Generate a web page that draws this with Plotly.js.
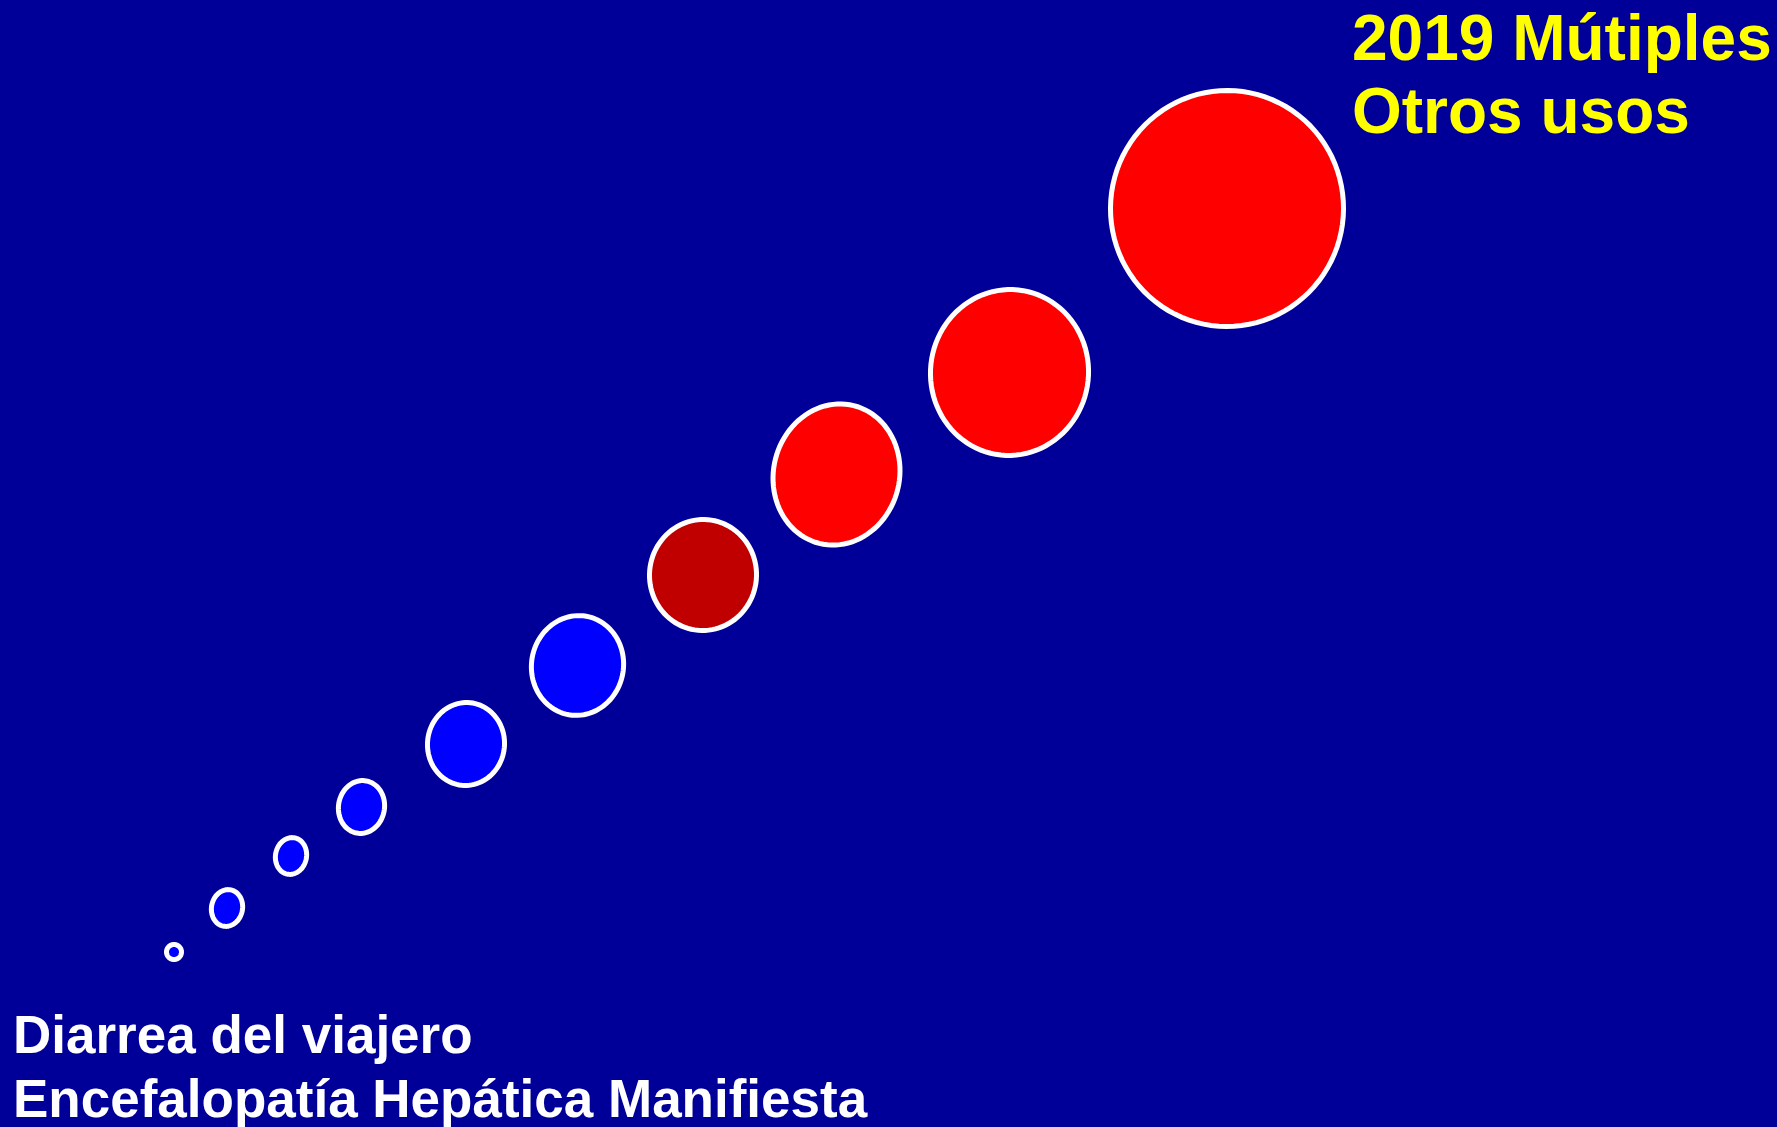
<!DOCTYPE html>
<html>
<head>
<meta charset="utf-8">
<script src="https://cdn.plot.ly/plotly-3.0.1.min.js"></script>
<style>html,body{margin:0;padding:0;background:#000099;}#chart{width:1777px;height:1127px;}</style>
</head>
<body>
<div id="chart"></div>
<script>
// Bubble centres (chart units), widths, heights, tilts (deg) and fills, smallest to largest
const bubbleX = [174, 227, 291, 361.5, 466, 577.5, 703, 836.5, 1009.5, 1227];
const bubbleY = [952, 908, 856, 807, 744, 665.5, 575, 474.5, 372.5, 208.5];
const bubbleW = [20, 36, 36, 51, 82, 97, 112, 131, 163, 238];
const bubbleH = [20, 42, 42, 58, 88, 105, 116, 147, 171, 241];
const bubbleTilt = [0, 12, 12, 10, 6, 10, 5, 14, 6, 4];
const bubbleFill = ['#0000FF','#0000FF','#0000FF','#0000FF','#0000FF','#0000FF','#C00000','#FF0000','#FF0000','#FF0000'];
const bubbleLine = [5, 5, 5, 5, 5, 5, 5, 5, 5, 5];

const topLabels = ['2019 Mútiples', 'Otros usos'];
const bottomLabels = ['Diarrea del viajero', 'Encefalopatía Hepática Manifiesta'];

function ellipsePath(cx, cy, a, b, deg) {
  const th = deg * Math.PI / 180, c = Math.cos(th), s = Math.sin(th);
  const n = 96;
  let d = '';
  for (let k = 0; k <= n; k++) {
    const t = 2 * Math.PI * k / n;
    const dx = a * Math.cos(t), dy = b * Math.sin(t);
    const px = cx + dx * c - dy * s, py = cy + dx * s + dy * c;
    d += (k === 0 ? 'M' : 'L') + px.toFixed(2) + ',' + py.toFixed(2);
  }
  return d + 'Z';
}

const shapes = bubbleX.map((cx, i) => {
  const lw = bubbleLine[i];
  const a = (bubbleW[i] - lw) / 2, b = (bubbleH[i] - lw) / 2;
  return {
    type: 'path', xref: 'x', yref: 'y',
    path: ellipsePath(cx, bubbleY[i], a, b, bubbleTilt[i]),
    fillcolor: bubbleFill[i],
    line: {color: '#FFFFFF', width: lw}
  };
});

const topSize = 64, botSize = 53;
const annotations = [];
[60, 133].forEach((base, i) => annotations.push({
  text: topLabels[i], x: 1352, y: base - 0.3465 * topSize, xref: 'x', yref: 'y',
  xanchor: 'left', yanchor: 'middle', showarrow: false, borderpad: 0, borderwidth: 0,
  font: {family: 'Liberation Sans, Arial, sans-serif', size: topSize, color: '#FFFF00', weight: 'bold'}
}));
[1053, 1117].forEach((base, i) => annotations.push({
  text: bottomLabels[i], x: 13, y: base - 0.3465 * botSize, xref: 'x', yref: 'y',
  xanchor: 'left', yanchor: 'middle', showarrow: false, borderpad: 0, borderwidth: 0,
  font: {family: 'Liberation Sans, Arial, sans-serif', size: botSize, color: '#FFFFFF', weight: 'bold'}
}));

const layout = {
  width: 1777, height: 1127,
  margin: {l: 0, r: 0, t: 0, b: 0, pad: 0},
  paper_bgcolor: '#000099', plot_bgcolor: '#000099',
  xaxis: {range: [0, 1777], visible: false, fixedrange: true},
  yaxis: {range: [1127, 0], visible: false, fixedrange: true},
  showlegend: false,
  shapes: shapes,
  annotations: annotations
};

Plotly.newPlot('chart', [{x: bubbleX, y: bubbleY, mode: 'markers', marker: {opacity: 0}, hoverinfo: 'skip', type: 'scatter'}], layout, {staticPlot: true, displayModeBar: false});
</script>
</body>
</html>
